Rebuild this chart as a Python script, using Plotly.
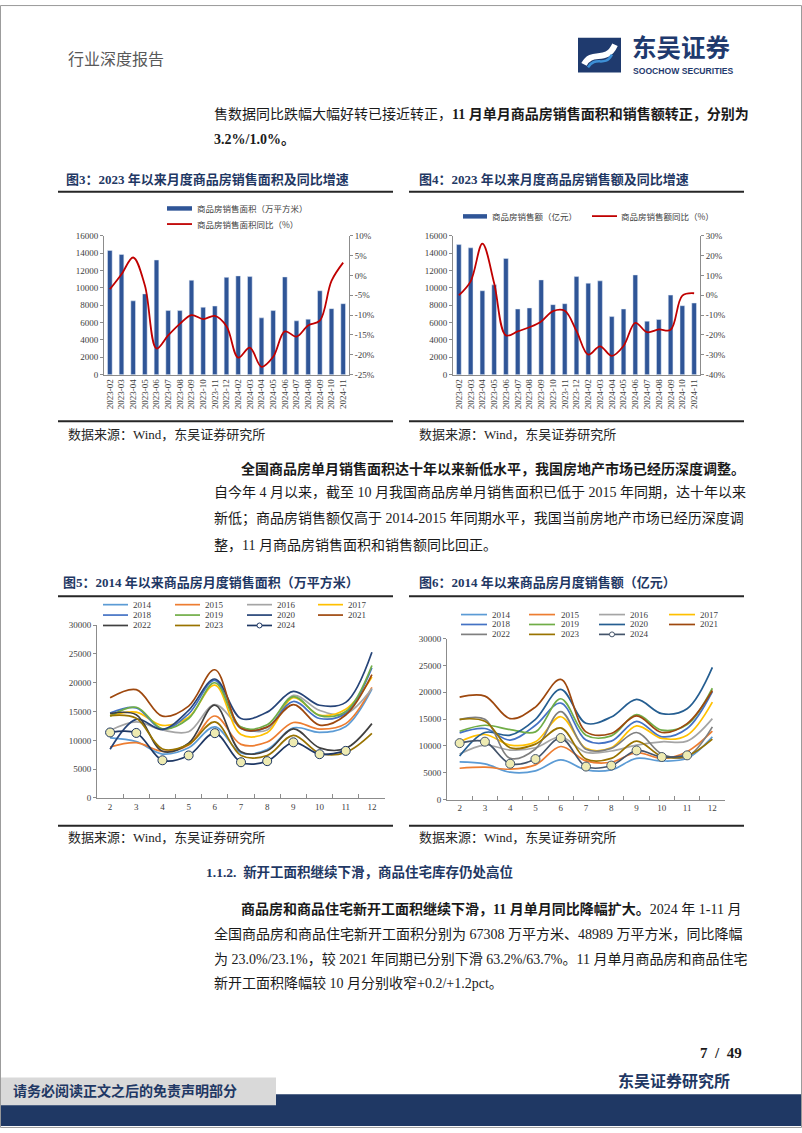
import plotly.graph_objects as go

W, H = 802, 1133


def X(px):
    return px / W


def Y(py):
    return 1 - py / H


# ---------------- data ----------------
months = ["2023-02", "2023-03", "2023-04", "2023-05", "2023-06", "2023-07", "2023-08",
          "2023-09", "2023-10", "2023-11", "2023-12", "2024-02", "2024-03", "2024-04",
          "2024-05", "2024-06", "2024-07", "2024-08", "2024-09", "2024-10", "2024-11"]
area_sales = [14300, 13840, 8500, 9300, 13200, 7380, 7380, 10870, 7760, 7900, 11200,
              11370, 11290, 6540, 7380, 11250, 6200, 6390, 9660, 7600, 8170]
area_yoy = [-3.5, 0.3, 4.5, -2.5, -18.4, -15.1, -12.2, -10.0, -11.0, -10.2, -12.8,
            -20.7, -18.2, -23.0, -20.5, -14.1, -15.4, -12.6, -11.4, -1.4, 3.2]
amount_sales = [14970, 14600, 9660, 10340, 13380, 7560, 7680, 10910, 8060, 8170, 11290,
                10530, 10800, 6690, 7560, 11480, 6160, 6350, 9160, 7940, 8250]
amount_yoy = [0.0, 7.0, 26.0, 6.0, -20.2, -18.2, -16.1, -13.2, -8.0, -7.8, -18.0,
              -29.9, -25.7, -30.5, -25.5, -13.9, -18.6, -17.2, -17.4, -0.2, 1.0]

area_yoy_ticks = [10, 5, 0, -5, -10, -15, -20, -25]
area_yoy_labels = ["10%", "5%", "0%", "-5%", "-10%", "-15%", "-20%", "-25%"]
amount_yoy_ticks = [30, 20, 10, 0, -10, -20, -30, -40]
amount_yoy_labels = ["30%", "20%", "10%", "0%", "-10%", "-20%", "-30%", "-40%"]

month_nums = ["2", "3", "4", "5", "6", "7", "8", "9", "10", "11", "12"]
years = ["2014", "2015", "2016", "2017", "2018", "2019", "2020", "2021", "2022", "2023", "2024"]

# monthly sales area (10k m2), Fig 5
area_2014 = [10440, 9800, 7620, 8700, 12340, 7800, 8400, 12170, 11400, 12400, 18900]
area_2015 = [8850, 9600, 8100, 9200, 14230, 9300, 9700, 13100, 11950, 12900, 19200]
area_2016 = [11700, 13200, 11800, 11500, 16200, 12300, 11800, 17800, 15200, 14600, 19000]
area_2017 = [14300, 14900, 12600, 14000, 19600, 11000, 11300, 17400, 14400, 15400, 21000]
area_2018 = [14750, 15650, 11900, 14600, 20400, 12050, 12300, 16750, 13800, 14700, 22600]
area_2019 = [14200, 15750, 12000, 13800, 20000, 12300, 12700, 17600, 14300, 15000, 23000]
area_2020 = [8450, 13650, 11900, 15200, 20650, 13800, 14900, 18500, 16100, 16600, 25300]
area_2021 = [17380, 18800, 14200, 15950, 22260, 12100, 12300, 16200, 12650, 14400, 21400]
area_2022 = [14650, 14450, 8100, 9500, 16100, 8000, 8200, 12000, 8700, 8600, 12900]
area_2023 = [14300, 13840, 8500, 9300, 13200, 7380, 7380, 10870, 7760, 7900, 11200]
area_2024 = [11370, 11290, 6540, 7380, 11250, 6200, 6390, 9660, 7600, 8170]

# monthly sales amount (100m yuan), Fig 6
amt_2014 = [7020, 6650, 5110, 5360, 7400, 5550, 5550, 7700, 7200, 7700, 11700]
amt_2015 = [5850, 6040, 5670, 6470, 9900, 7210, 6960, 8760, 7700, 8930, 12750]
amt_2016 = [8500, 10170, 9240, 9670, 11700, 8810, 9060, 10170, 10780, 10900, 15100]
amt_2017 = [10780, 12140, 10170, 10780, 15450, 9550, 9670, 13750, 11400, 12010, 18180]
amt_2018 = [12450, 13250, 11090, 13860, 18000, 11090, 10900, 14600, 11720, 13250, 20150]
amt_2019 = [12750, 13860, 13060, 12630, 18800, 12010, 11890, 15840, 12940, 13990, 20760]
amt_2020 = [8130, 12510, 12010, 14970, 20550, 14230, 15400, 18670, 16020, 16940, 24650]
amt_2021 = [19100, 19290, 15100, 17250, 22400, 12630, 12320, 15600, 12510, 14170, 20330]
amt_2022 = [14910, 14970, 7700, 9430, 16400, 9370, 9550, 12510, 8500, 8010, 13560]
amt_2023 = [14970, 14600, 9660, 10340, 13380, 7560, 7680, 10910, 8060, 8170, 11290]
amt_2024 = [10530, 10800, 6690, 7560, 11480, 6160, 6350, 9160, 7940, 8250]

area_series = [area_2014, area_2015, area_2016, area_2017, area_2018, area_2019,
               area_2020, area_2021, area_2022, area_2023, area_2024]
amt_series = [amt_2014, amt_2015, amt_2016, amt_2017, amt_2018, amt_2019,
              amt_2020, amt_2021, amt_2022, amt_2023, amt_2024]

colors5 = ["#5B9BD5", "#ED7D31", "#A5A5A5", "#FFC000", "#4472C4", "#70AD47",
           "#264478", "#9E480E", "#404040", "#997300", "#1F3864"]
colors6 = ["#5B9BD5", "#ED7D31", "#A5A5A5", "#FFC000", "#4472C4", "#70AD47",
           "#255E91", "#9E480E", "#7F7F7F", "#997300", "#44546A"]

# ---------------- styles ----------------
SERIF = "Liberation Serif, Noto Sans CJK SC, serif"
SANS = "Noto Sans CJK SC, sans-serif"
NAVY = "#1F3864"
AX = "#8C8C8C"
TICKF = dict(family="Liberation Serif, serif", size=9, color="#404040")
BAR_C = "#2F5597"
RED = "#C00000"
MARK_FILL = "#EEEBB2"

fig = go.Figure()

# Fig 3
fig.add_trace(go.Bar(x=months, y=area_sales, marker_color=BAR_C, xaxis="x", yaxis="y",
                     showlegend=False))
fig.add_trace(go.Scatter(x=months, y=area_yoy, mode="lines", xaxis="x", yaxis="y2",
                         line=dict(color=RED, width=1.8, shape="spline"), showlegend=False))
# Fig 4
fig.add_trace(go.Bar(x=months, y=amount_sales, marker_color=BAR_C, xaxis="x3", yaxis="y3",
                     showlegend=False))
fig.add_trace(go.Scatter(x=months, y=amount_yoy, mode="lines", xaxis="x3", yaxis="y4",
                         line=dict(color=RED, width=1.8, shape="spline"), showlegend=False))

# Fig 5 / Fig 6
for i, yr in enumerate(years):
    is24 = yr == "2024"
    for series, cols, xa, ya in ((area_series, colors5, "x5", "y5"),
                                 (amt_series, colors6, "x6", "y6")):
        vals = series[i]
        fig.add_trace(go.Scatter(
            x=month_nums[:len(vals)], y=vals, xaxis=xa, yaxis=ya,
            mode="lines+markers" if is24 else "lines",
            line=dict(color=cols[i], width=1.7, shape="spline"),
            marker=dict(size=9, color=MARK_FILL, line=dict(color=cols[i], width=1)) if is24 else None,
            showlegend=False, name=yr))

ann = []
shapes = []


def txt(x, y, s, size=14, color="#1A1A1A", family=SERIF, anchor="left"):
    ann.append(dict(x=X(x), y=Y(y), xref="paper", yref="paper", text=s, showarrow=False,
                    xanchor=anchor, yanchor="middle", font=dict(family=family, size=size, color=color)))


def hline(x0, x1, y, color="#262626", width=2):
    shapes.append(dict(type="line", xref="paper", yref="paper", x0=X(x0), x1=X(x1), y0=Y(y), y1=Y(y),
                       line=dict(color=color, width=width)))


def rect(x0, y0, x1, y1, fill, line_w=0, line_c=None):
    shapes.append(dict(type="rect", xref="paper", yref="paper", x0=X(x0), x1=X(x1), y0=Y(y1), y1=Y(y0),
                       fillcolor=fill, line=dict(width=line_w, color=line_c or fill), layer="above"))


# ---------------- header ----------------
txt(66, 53, "行业深度报告", size=16, color="#595959", family=SANS)
rect(578, 33, 621, 68, "#1F3A6E")
shapes.append(dict(type="path", xref="paper", yref="paper",
                   path="M {},{} C {},{} {},{} {},{}".format(X(584), Y(60), X(592), Y(44), X(606), Y(60), X(615), Y(40)),
                   line=dict(color="white", width=6), layer="above"))
shapes.append(dict(type="path", xref="paper", yref="paper",
                   path="M {},{} C {},{} {},{} {},{}".format(X(588), Y(63), X(596), Y(50), X(604), Y(64), X(612), Y(50)),
                   line=dict(color="#3D8FD6", width=2.5), layer="above"))
txt(630, 42, "<b>东吴证券</b>", size=24.5, color="#1F3A6E", family=SANS)
txt(631, 67, "<b>SOOCHOW SECURITIES</b>", size=8.6, color="#1F3A6E",
    family="Liberation Sans, sans-serif")

# paragraph 1
txt(212, 110, "售数据同比跌幅大幅好转已接近转正，<b>11 月单月商品房销售面积和销售额转正，分别为</b>")
txt(212, 136, "<b>3.2%/1.0%。</b>")

# figure titles 3/4
txt(64, 176, "<b>图3：2023 年以来月度商品房销售面积及同比增速</b>", size=13, color=NAVY)
txt(417, 176, "<b>图4：2023 年以来月度商品房销售额及同比增速</b>", size=13, color=NAVY)
hline(58, 393, 188.5)
hline(409, 744, 188.5)

# legends fig 3/4
rect(167, 203, 192, 207.5, BAR_C)
txt(195, 205, "商品房销售面积（万平方米）", size=8.5, color="#404040", family=SANS)
hline(167, 192, 221, color=RED, width=1.8)
txt(195, 221, "商品房销售面积同比（%）", size=8.5, color="#404040", family=SANS)
rect(463, 211, 487, 215.5, BAR_C)
txt(490, 213, "商品房销售额（亿元）", size=8.5, color="#404040", family=SANS)
hline(592, 617, 213, color=RED, width=1.8)
txt(619, 213, "商品房销售额同比（%）", size=8.5, color="#404040", family=SANS)

hline(58, 393, 420)
hline(409, 744, 420)
txt(66, 433, "数据来源：Wind，东吴证券研究所", size=13, color="#262626")
txt(417, 433, "数据来源：Wind，东吴证券研究所", size=13, color="#262626")

# paragraph 2
txt(239, 468, "<b>全国商品房单月销售面积达十年以来新低水平，我国房地产市场已经历深度调整。</b>")
txt(212, 492, "自今年 4 月以来，截至 10 月我国商品房单月销售面积已低于 2015 年同期，达十年以来")
txt(212, 518, "新低；商品房销售额仅高于 2014-2015 年同期水平，我国当前房地产市场已经历深度调")
txt(212, 545, "整，11 月商品房销售面积和销售额同比回正。")

# figure titles 5/6
txt(61, 583, "<b>图5：2014 年以来商品房月度销售面积（万平方米）</b>", size=13, color=NAVY)
txt(417, 583, "<b>图6：2014 年以来商品房月度销售额（亿元）</b>", size=13, color=NAVY)
hline(58, 393, 596.5)
hline(409, 744, 596.5)


# legends fig 5/6
def year_legend(cols, col_x, text_x, row_y, sw):
    for i, yr in enumerate(years):
        r, c = divmod(i, 4)
        y = row_y[r]
        hline(col_x[c], col_x[c] + sw, y, color=cols[i], width=1.7)
        if yr == "2024":
            cx = col_x[c] + sw / 2
            shapes.append(dict(type="circle", xref="paper", yref="paper",
                               x0=X(cx - 2.5), x1=X(cx + 2.5), y0=Y(y + 2.5), y1=Y(y - 2.5),
                               fillcolor="white", line=dict(color=cols[i], width=1), layer="above"))
        txt(text_x[c], y, yr, size=9, color="#404040", family="Liberation Serif, serif")


year_legend(colors5, [103, 175, 247, 318], [131, 203, 275, 346], [605, 615.5, 626], 25)
year_legend(colors6, [461, 529, 599, 669], [490, 559, 628, 698], [615, 625, 635], 26)

hline(58, 393, 828)
hline(409, 744, 828)
txt(66, 840, "数据来源：Wind，东吴证券研究所", size=13, color="#262626")
txt(417, 840, "数据来源：Wind，东吴证券研究所", size=13, color="#262626")

# section heading + paragraph 3
txt(204, 875, "<b>1.1.2.  新开工面积继续下滑，商品住宅库存仍处高位</b>", size=13.5, color=NAVY)
txt(239, 912, "<b>商品房和商品住宅新开工面积继续下滑，11 月单月同比降幅扩大。</b>2024 年 1-11 月")
txt(212, 937, "全国商品房和商品住宅新开工面积分别为 67308 万平方米、48989 万平方米，同比降幅")
txt(212, 962, "为 23.0%/23.1%，较 2021 年同期已分别下滑 63.2%/63.7%。11 月单月商品房和商品住宅")
txt(212, 987, "新开工面积降幅较 10 月分别收窄+0.2/+1.2pct。")

# footer
txt(744, 1057, "<b>7  /  49</b>", size=15, color="#1A1A1A", anchor="right")
txt(732, 1085, "<b>东吴证券研究所</b>", size=16, color=NAVY, family=SANS, anchor="right")
rect(0, 1099, 802, 1131, "#1F3864")
rect(0, 1082, 276, 1110, "#D9D9D9")
txt(11, 1096, "<b>请务必阅读正文之后的免责声明部分</b>", size=14, color=NAVY)
shapes.append(dict(type="rect", xref="paper", yref="paper", x0=0.0006, x1=0.9994, y0=0.0005, y1=0.9995,
                   line=dict(color="#9A9A9A", width=1), fillcolor="rgba(0,0,0,0)", layer="above"))


# ---------------- axes ----------------
def yax(dom, rng, dtick, anchor, **kw):
    d = dict(domain=dom, range=rng, dtick=dtick, tick0=0, anchor=anchor, showline=True, linecolor=AX,
             linewidth=1, ticks="outside", ticklen=3, tickcolor=AX, showgrid=False, zeroline=False,
             tickfont=TICKF, tickformat="d", fixedrange=True)
    d.update(kw)
    return d


def bar_xax(dom, anchor):
    return dict(domain=dom, anchor=anchor, type="category", range=[-0.5, 20.5], tickangle=-90,
                showline=True, linecolor=AX, linewidth=1, ticks="", showgrid=False, zeroline=False,
                tickfont=TICKF)


def line_xax(dom, anchor):
    return dict(domain=dom, anchor=anchor, type="category", range=[-0.5, 10.5], tickson="boundaries",
                ticks="inside", ticklen=4, tickcolor=AX, showline=True, linecolor=AX, linewidth=1,
                showgrid=False, zeroline=False, tickfont=TICKF)


fig.update_layout(
    width=W, height=H, margin=dict(l=0, r=0, t=0, b=0), autosize=False,
    paper_bgcolor="white", plot_bgcolor="rgba(0,0,0,0)", bargap=0.6, showlegend=False,
    xaxis=bar_xax([X(104), X(349)], "y"),
    yaxis=yax([Y(373), Y(232.7)], [0, 16000], 2000, "x"),
    yaxis2=yax([Y(373), Y(232.7)], [-25, 10], 5, "x", overlaying="y", side="right",
               tickmode="array", tickvals=area_yoy_ticks, ticktext=area_yoy_labels),
    xaxis3=bar_xax([X(453), X(700)], "y3"),
    yaxis3=yax([Y(373), Y(232.7)], [0, 16000], 2000, "x3"),
    yaxis4=yax([Y(373), Y(232.7)], [-40, 30], 10, "x3", overlaying="y3", side="right",
               tickmode="array", tickvals=amount_yoy_ticks, ticktext=amount_yoy_labels),
    xaxis5=line_xax([X(97), X(385)], "y5"),
    yaxis5=yax([Y(800), Y(625.7)], [0, 30000], 5000, "x5"),
    xaxis6=line_xax([X(447), X(725)], "y6"),
    yaxis6=yax([Y(801.7), Y(639.3)], [0, 30000], 5000, "x6"),
    annotations=ann, shapes=shapes,
)

fig.write_html("out.html")
